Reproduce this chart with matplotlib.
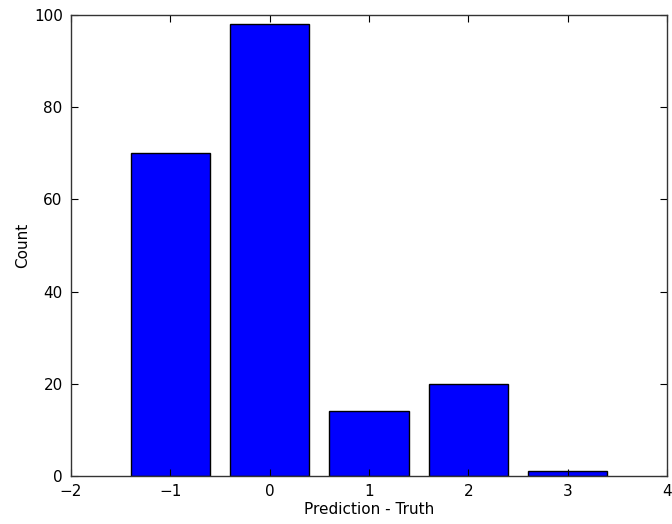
import matplotlib
matplotlib.use("Agg")
import matplotlib.pyplot as plt

# difference between predicted and true value, and how often it occurs
diffs = [-1, 0, 1, 2, 3]
counts = [70, 98, 14, 20, 1]

plt.rcParams["font.size"] = 11
plt.rcParams["axes.unicode_minus"] = True

fig = plt.figure(figsize=(6.72, 5.24), dpi=100)
ax = fig.add_axes([0.1057, 0.0916, 0.8869, 0.8798])

ax.bar(diffs, counts, width=0.8, align="center", color="#0000ff",
       edgecolor="black", linewidth=1)

ax.set_xlim(-2, 4)
ax.set_ylim(0, 100)
ax.set_xticks([-2, -1, 0, 1, 2, 3, 4])
ax.set_yticks([0, 20, 40, 60, 80, 100])
ax.tick_params(direction="in", top=True, right=True, length=5, width=0.8,
               labelsize=11, pad=6)
for s in ax.spines.values():
    s.set_linewidth(1.0)
    s.set_edgecolor("#333333")

ax.set_xlabel("Prediction - Truth", fontsize=11, labelpad=2)
ax.set_ylabel("Count", fontsize=11, labelpad=3)

fig.savefig("out.png", dpi=100)
